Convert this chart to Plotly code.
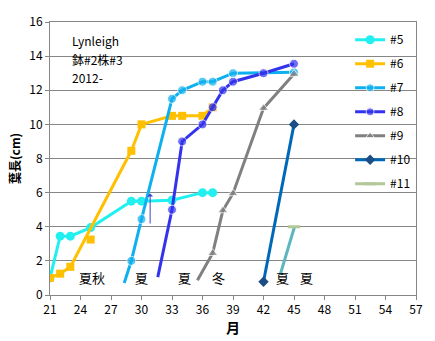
import plotly.graph_objects as go

# ---- data ----
s5_x = [21, 22, 23, 25, 29, 30, 33, 36, 37]
s5_y = [1.0, 3.45, 3.45, 3.95, 5.5, 5.5, 5.55, 6.0, 6.0]

s6_x = [21, 22, 23, 29, 30, 33, 34, 36, 37]
s6_y = [1.0, 1.25, 1.65, 8.45, 10.0, 10.5, 10.5, 10.5, 11.0]
s6_extra_x = [25]
s6_extra_y = [3.25]

s7_x = [28.3, 29, 30, 33, 34, 36, 37, 39, 45]
s7_y = [0.7, 2.0, 4.45, 11.5, 12.0, 12.5, 12.5, 13.0, 13.05]

s8_x = [31.6, 33, 34, 36, 37, 38, 39, 42, 45]
s8_y = [1.05, 5.0, 9.0, 10.0, 11.0, 12.0, 12.5, 13.0, 13.55]

s9_x = [35.5, 37, 38, 39, 42, 45]
s9_y = [0.87, 2.45, 4.95, 5.95, 10.95, 12.95]

s10_x = [42, 45]
s10_y = [0.78, 10.0]

s11_x = [45]
s11_y = [4.0]
teal_x = [43.65, 45.05]
teal_y = [1.2, 4.0]

seasons = ["夏秋", "夏", "夏", "冬", "夏", "夏"]
season_x = [25.15, 30.0, 34.25, 37.6, 43.85, 46.2]
season_y = [1.02] * 6

info_lines = ["Lynleigh", "鉢#2株#3", "2012-"]
info_y = [14.9, 13.82, 12.75]

FONT = "Noto Sans CJK JP"

def sizes(xs, lead_hidden, s):
    return [0 if (lead_hidden and i == 0) else s for i in range(len(xs))]

fig = go.Figure()

fig.add_trace(go.Scatter(x=s5_x, y=s5_y, name="#5", mode="lines+markers",
                         line=dict(color="#22F0F0", width=3),
                         marker=dict(symbol="circle", size=9, color="#22F0F0"),
                         legendgroup="a"))
fig.add_trace(go.Scatter(x=s6_x, y=s6_y, name="#6", mode="lines+markers",
                         line=dict(color="#FFC000", width=3),
                         marker=dict(symbol="square", size=8, color="#FFC000"),
                         legendgroup="b"))
fig.add_trace(go.Scatter(x=s6_extra_x, y=s6_extra_y, mode="markers", showlegend=False,
                         marker=dict(symbol="square", size=8, color="#FFC000")))
fig.add_trace(go.Scatter(x=s7_x, y=s7_y, name="#7", mode="lines+markers",
                         line=dict(color="#0FB0F0", width=3),
                         marker=dict(symbol="circle", size=sizes(s7_x, True, 9), color="#0FB0F0"),
                         legendgroup="c"))
fig.add_trace(go.Scatter(x=s8_x, y=s8_y, name="#8", mode="lines+markers",
                         line=dict(color="#3333EE", width=3),
                         marker=dict(symbol="circle", size=sizes(s8_x, True, 9), color="#3333EE"),
                         legendgroup="d"))
fig.add_trace(go.Scatter(x=s9_x, y=s9_y, name="#9", mode="lines+markers",
                         line=dict(color="#808080", width=3),
                         marker=dict(symbol="triangle-up", size=sizes(s9_x, True, 9), color="#808080"),
                         legendgroup="e"))
fig.add_trace(go.Scatter(x=s10_x, y=s10_y, name="#10", mode="lines+markers",
                         line=dict(color="#0068B8", width=3),
                         marker=dict(symbol="diamond", size=8, color="#1A4E85"),
                         legendgroup="f"))
fig.add_trace(go.Scatter(x=teal_x, y=teal_y, mode="lines", showlegend=False,
                         line=dict(color="#5DB7BE", width=3)))
fig.add_trace(go.Scatter(x=s11_x, y=s11_y, name="#11", mode="lines+markers",
                         line=dict(color="#B3C798", width=3),
                         marker=dict(symbol="line-ew", size=9,
                                     line=dict(color="#B3C798", width=3)),
                         legendgroup="g"))

ann = []
for t, xx, yy in zip(seasons, season_x, season_y):
    ann.append(dict(x=xx, y=yy, text=t, showarrow=False, xref="x", yref="y",
                    font=dict(family=FONT, size=13, color="#000000")))
for t, yy in zip(info_lines, info_y):
    ann.append(dict(x=23, y=yy, text=t, showarrow=False, xref="x", yref="y",
                    xanchor="left", font=dict(family=FONT, size=12, color="#000000")))
# small arrow
ann.append(dict(x=30.85, y=5.95, ax=30.85, ay=4.1, xref="x", yref="y",
                axref="x", ayref="y", showarrow=True, text="",
                arrowhead=1, arrowsize=1, arrowwidth=1, arrowcolor="#4040CC"))

fig.update_layout(
    width=435, height=341,
    margin=dict(l=50, r=16, t=13, b=45),
    paper_bgcolor="white", plot_bgcolor="white",
    font=dict(family=FONT, size=12, color="#000000"),
    annotations=ann,
    legend=dict(x=0.82, y=0.988, xanchor="left", yanchor="top",
                bgcolor="rgba(0,0,0,0)", font=dict(family=FONT, size=12),
                tracegroupgap=5, itemwidth=30),
    xaxis=dict(range=[21, 57], tick0=21, dtick=3, showgrid=False,
               showline=True, linecolor="#868686", mirror=True,
               ticks="outside", ticklen=4, tickcolor="#868686",
               tickfont=dict(size=12),
               title=dict(text="<b>月</b>", font=dict(size=14), standoff=2)),
    yaxis=dict(range=[0, 16], dtick=2, showgrid=True, gridcolor="#868686",
               showline=True, linecolor="#868686", mirror=True,
               ticks="outside", ticklen=4, tickcolor="#868686",
               tickfont=dict(size=12), zeroline=False,
               title=dict(text="<b>葉長(cm)</b>", font=dict(size=12), standoff=6)),
)

fig.write_html("out.html")
